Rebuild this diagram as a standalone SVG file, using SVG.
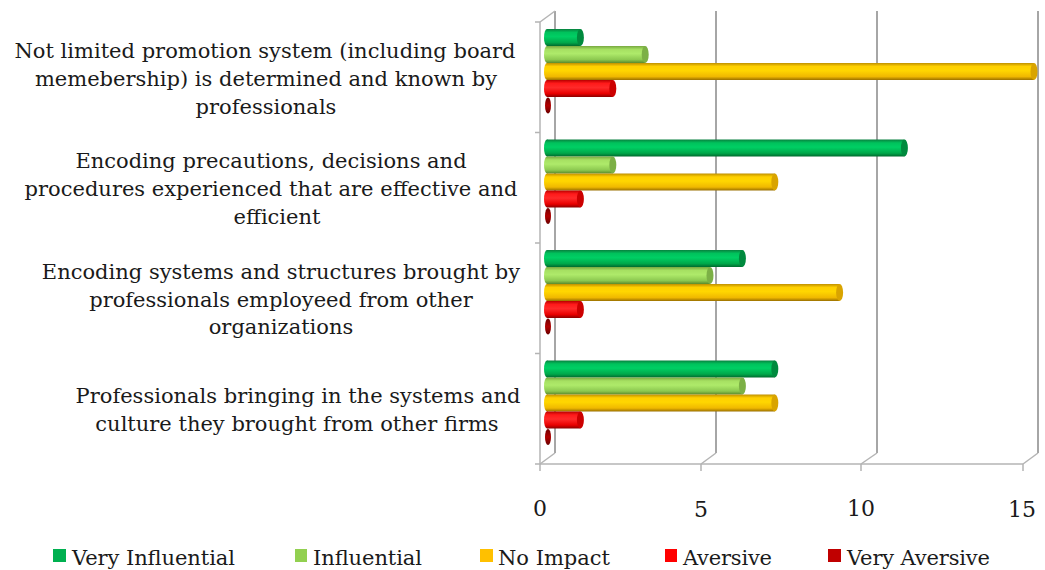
<svg xmlns="http://www.w3.org/2000/svg" width="1045" height="570" viewBox="0 0 1045 570">
<defs>
<linearGradient id="gVI" x1="0" y1="0" x2="0" y2="1"><stop offset="0" stop-color="#08803e"/><stop offset="0.2" stop-color="#00c25c"/><stop offset="0.45" stop-color="#00cf64"/><stop offset="0.8" stop-color="#00a84a"/><stop offset="1" stop-color="#006a2e"/></linearGradient>
<linearGradient id="gI" x1="0" y1="0" x2="0" y2="1"><stop offset="0" stop-color="#78a840"/><stop offset="0.2" stop-color="#a6e062"/><stop offset="0.45" stop-color="#aeea6a"/><stop offset="0.8" stop-color="#8cc850"/><stop offset="1" stop-color="#5a8a2c"/></linearGradient>
<linearGradient id="gN" x1="0" y1="0" x2="0" y2="1"><stop offset="0" stop-color="#c09000"/><stop offset="0.2" stop-color="#ffd000"/><stop offset="0.45" stop-color="#ffd600"/><stop offset="0.8" stop-color="#f0b800"/><stop offset="1" stop-color="#9a7000"/></linearGradient>
<linearGradient id="gA" x1="0" y1="0" x2="0" y2="1"><stop offset="0" stop-color="#b80000"/><stop offset="0.2" stop-color="#ff1a1a"/><stop offset="0.45" stop-color="#ff2a2a"/><stop offset="0.8" stop-color="#e80000"/><stop offset="1" stop-color="#8a0000"/></linearGradient>
<linearGradient id="gVA" x1="0" y1="0" x2="0" y2="1"><stop offset="0" stop-color="#700000"/><stop offset="0.5" stop-color="#b00000"/><stop offset="1" stop-color="#6a0000"/></linearGradient>
<style>
.grid{stroke:#a6a6a6;stroke-width:2;fill:none}
.ax{stroke:#b4b4b4;stroke-width:1.5;fill:none}
.lbl{font-family:"DejaVu Serif","Liberation Serif",serif;font-size:21px;fill:#1a1a1a;text-anchor:middle}
.num{font-family:"DejaVu Serif","Liberation Serif",serif;font-size:22px;fill:#1a1a1a;text-anchor:middle}
.leg{font-family:"DejaVu Serif","Liberation Serif",serif;font-size:21px;fill:#1a1a1a}
.capVI{fill:#008a3e}.capI{fill:#7cb046}.capN{fill:#d9a400}.capA{fill:#cc0000}.capVA{fill:#8a0000}
</style>
</defs>
<rect width="1045" height="570" fill="#ffffff"/>
<g id="axes">
<line class="grid" x1="555" y1="11" x2="555" y2="453"/>
<line class="grid" x1="716" y1="11" x2="716" y2="453"/>
<line class="grid" x1="877" y1="11" x2="877" y2="453"/>
<line class="grid" x1="1038" y1="11" x2="1038" y2="453"/>
<line class="ax" x1="540" y1="464" x2="555" y2="453"/>
<line class="ax" x1="701" y1="464" x2="716" y2="453"/>
<line class="ax" x1="861" y1="464" x2="877" y2="453"/>
<line class="ax" x1="1023" y1="464" x2="1038" y2="453"/>
<line class="ax" x1="540" y1="22" x2="555" y2="11"/>
<line class="ax" x1="540" y1="22" x2="540" y2="464"/>
<line class="ax" x1="540" y1="464" x2="1023" y2="464"/>
<path class="ax" d="M535 22H540M535 132.5H540M535 243H540M535 353.5H540M535 464H540"/>
<path class="ax" d="M540 464V471M701 464V471M861 464V471M1023 464V471"/>
<text class="num" x="540" y="516">0</text>
<text class="num" x="701" y="517">5</text>
<text class="num" x="861" y="516">10</text>
<text class="num" x="1022" y="517">15</text>
</g>
<g id="cat1">
<text class="lbl" x="265" y="58">Not limited promotion system (including board</text>
<text class="lbl" x="266" y="86">memebership) is determined and known by</text>
<text class="lbl" x="266" y="114">professionals</text>
<rect x="547" y="29" width="33.4" height="17" fill="url(#gVI)"/><ellipse cx="547" cy="37.5" rx="3" ry="8.5" fill="url(#gVI)"/><ellipse class="capVI" cx="580.4" cy="37.5" rx="3.5" ry="8.5"/>
<rect x="547" y="46" width="98.2" height="17" fill="url(#gI)"/><ellipse cx="547" cy="54.5" rx="3" ry="8.5" fill="url(#gI)"/><ellipse class="capI" cx="645.2" cy="54.5" rx="3.5" ry="8.5"/>
<rect x="547" y="63" width="487" height="17" fill="url(#gN)"/><ellipse cx="547" cy="71.5" rx="3" ry="8.5" fill="url(#gN)"/><ellipse class="capN" cx="1034" cy="71.5" rx="3.5" ry="8.5"/>
<rect x="547" y="80" width="65.8" height="17" fill="url(#gA)"/><ellipse cx="547" cy="88.5" rx="3" ry="8.5" fill="url(#gA)"/><ellipse class="capA" cx="612.8" cy="88.5" rx="3.5" ry="8.5"/>
<ellipse cx="548" cy="105.5" rx="3" ry="8" fill="url(#gVA)"/>
</g>
<g id="cat2">
<text class="lbl" x="271" y="168">Encoding precautions, decisions and</text>
<text class="lbl" x="271" y="196">procedures experienced that are effective and</text>
<text class="lbl" x="277" y="224">efficient</text>
<rect x="547" y="139.5" width="357.4" height="17" fill="url(#gVI)"/><ellipse cx="547" cy="148" rx="3" ry="8.5" fill="url(#gVI)"/><ellipse class="capVI" cx="904.4" cy="148" rx="3.5" ry="8.5"/>
<rect x="547" y="156.5" width="65.8" height="17" fill="url(#gI)"/><ellipse cx="547" cy="165" rx="3" ry="8.5" fill="url(#gI)"/><ellipse class="capI" cx="612.8" cy="165" rx="3.5" ry="8.5"/>
<rect x="547" y="173.5" width="227.8" height="17" fill="url(#gN)"/><ellipse cx="547" cy="182" rx="3" ry="8.5" fill="url(#gN)"/><ellipse class="capN" cx="774.8" cy="182" rx="3.5" ry="8.5"/>
<rect x="547" y="190.5" width="33.4" height="17" fill="url(#gA)"/><ellipse cx="547" cy="199" rx="3" ry="8.5" fill="url(#gA)"/><ellipse class="capA" cx="580.4" cy="199" rx="3.5" ry="8.5"/>
<ellipse cx="548" cy="216" rx="3" ry="8" fill="url(#gVA)"/>
</g>
<g id="cat3">
<text class="lbl" x="281" y="279">Encoding systems and structures brought by</text>
<text class="lbl" x="281" y="307">professionals employeed from other</text>
<text class="lbl" x="281" y="334">organizations</text>
<rect x="547" y="250" width="195.4" height="17" fill="url(#gVI)"/><ellipse cx="547" cy="258.5" rx="3" ry="8.5" fill="url(#gVI)"/><ellipse class="capVI" cx="742.4" cy="258.5" rx="3.5" ry="8.5"/>
<rect x="547" y="267" width="163" height="17" fill="url(#gI)"/><ellipse cx="547" cy="275.5" rx="3" ry="8.5" fill="url(#gI)"/><ellipse class="capI" cx="710" cy="275.5" rx="3.5" ry="8.5"/>
<rect x="547" y="284" width="292.6" height="17" fill="url(#gN)"/><ellipse cx="547" cy="292.5" rx="3" ry="8.5" fill="url(#gN)"/><ellipse class="capN" cx="839.6" cy="292.5" rx="3.5" ry="8.5"/>
<rect x="547" y="301" width="33.4" height="17" fill="url(#gA)"/><ellipse cx="547" cy="309.5" rx="3" ry="8.5" fill="url(#gA)"/><ellipse class="capA" cx="580.4" cy="309.5" rx="3.5" ry="8.5"/>
<ellipse cx="548" cy="326.5" rx="3" ry="8" fill="url(#gVA)"/>
</g>
<g id="cat4">
<text class="lbl" x="298" y="403">Professionals bringing in the systems and</text>
<text class="lbl" x="297" y="431">culture they brought from other firms</text>
<rect x="547" y="360.5" width="227.8" height="17" fill="url(#gVI)"/><ellipse cx="547" cy="369" rx="3" ry="8.5" fill="url(#gVI)"/><ellipse class="capVI" cx="774.8" cy="369" rx="3.5" ry="8.5"/>
<rect x="547" y="377.5" width="195.4" height="17" fill="url(#gI)"/><ellipse cx="547" cy="386" rx="3" ry="8.5" fill="url(#gI)"/><ellipse class="capI" cx="742.4" cy="386" rx="3.5" ry="8.5"/>
<rect x="547" y="394.5" width="227.8" height="17" fill="url(#gN)"/><ellipse cx="547" cy="403" rx="3" ry="8.5" fill="url(#gN)"/><ellipse class="capN" cx="774.8" cy="403" rx="3.5" ry="8.5"/>
<rect x="547" y="411.5" width="33.4" height="17" fill="url(#gA)"/><ellipse cx="547" cy="420" rx="3" ry="8.5" fill="url(#gA)"/><ellipse class="capA" cx="580.4" cy="420" rx="3.5" ry="8.5"/>
<ellipse cx="548" cy="437" rx="3" ry="8" fill="url(#gVA)"/>
</g>
<g id="legend">
<rect x="53" y="549" width="13" height="13" fill="#00b050"/><text class="leg" x="72" y="565" textLength="163">Very Influential</text>
<rect x="295" y="549" width="12" height="13" fill="#92d050"/><text class="leg" x="313" y="565" textLength="109">Influential</text>
<rect x="480" y="549" width="13" height="13" fill="#ffc000"/><text class="leg" x="498" y="565" textLength="112">No Impact</text>
<rect x="665" y="549" width="12" height="13" fill="#ff0000"/><text class="leg" x="683" y="565" textLength="89">Aversive</text>
<rect x="828" y="549" width="13" height="13" fill="#c00000"/><text class="leg" x="847" y="565" textLength="143">Very Aversive</text>
</g>
</svg>
